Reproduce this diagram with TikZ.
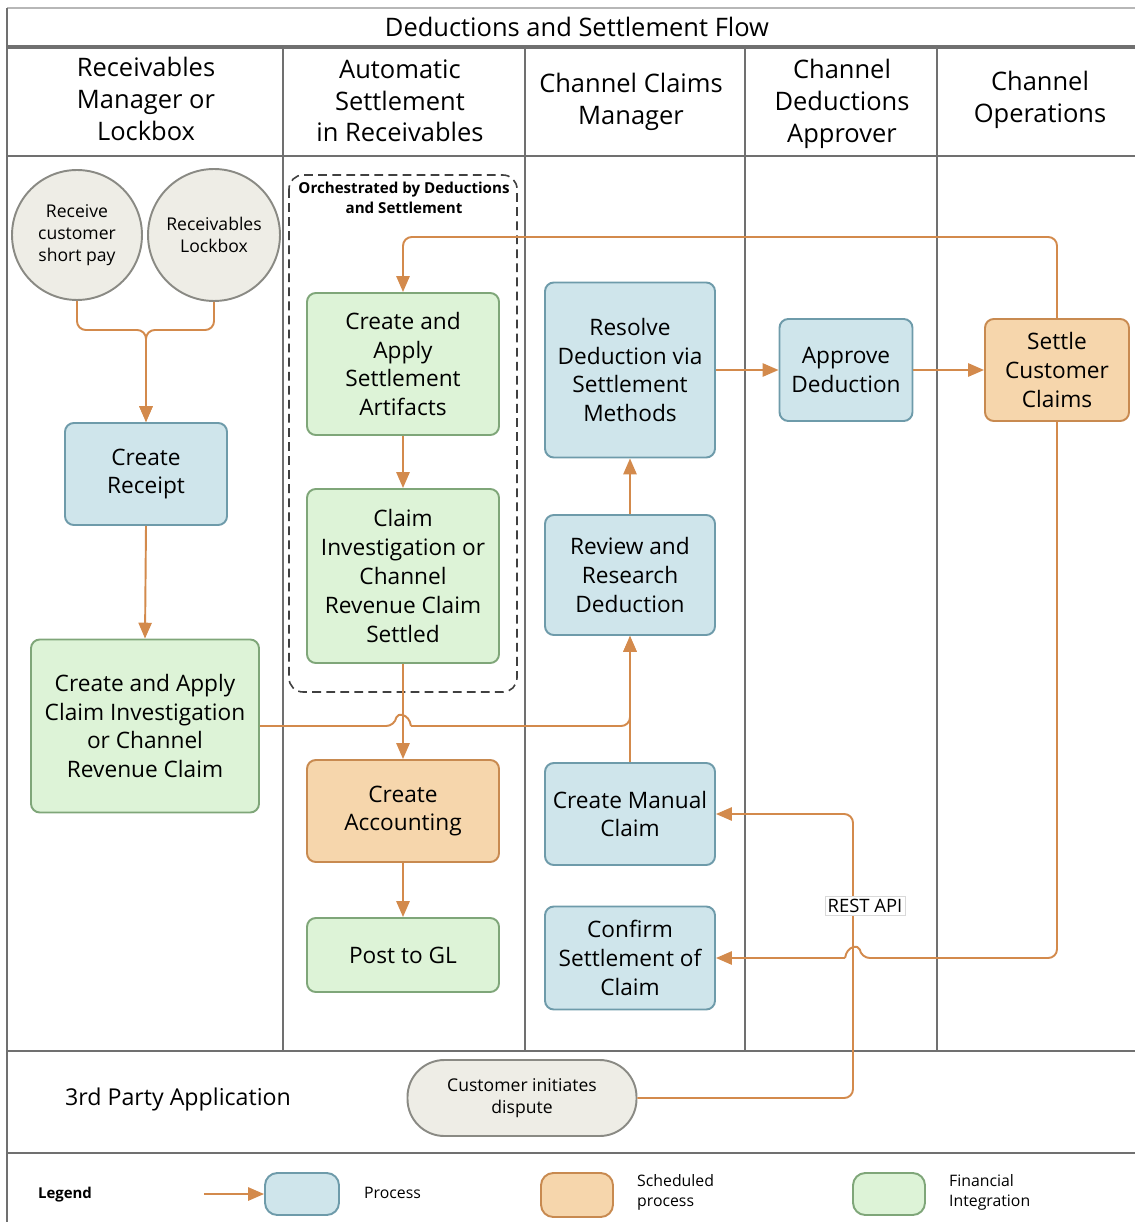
\documentclass[tikz,border=0pt]{standalone}
\usepackage{fontspec}
\setmainfont{Open Sans}
\usetikzlibrary{arrows.meta}
\definecolor{lane}{HTML}{707070}
\definecolor{arr}{HTML}{D38A4C}
\definecolor{bfill}{HTML}{CFE5EB}
\definecolor{bdraw}{HTML}{6E9BAA}
\definecolor{gfill}{HTML}{DDF3D7}
\definecolor{gdraw}{HTML}{7FA679}
\definecolor{ofill}{HTML}{F6D6AC}
\definecolor{odraw}{HTML}{C88A50}
\definecolor{cfill}{HTML}{EEEDE6}
\definecolor{cdraw}{HTML}{8A8A84}
\tikzset{
  ww/.style={minimum width=#1*0.02cm},
  hh/.style={minimum height=#1*0.02cm},
  boxbase/.style={rectangle, rounded corners=5pt, line width=1.1pt, align=center, inner sep=0pt,
     font=\fontsize{12.9}{16.4}\selectfont},
  proc/.style={boxbase, fill=bfill, draw=bdraw},
  fin/.style={boxbase, fill=gfill, draw=gdraw},
  sched/.style={boxbase, fill=ofill, draw=odraw},
  circ/.style={circle, fill=cfill, draw=cdraw, line width=1.1pt, align=center, inner sep=0pt,
     font=\fontsize{10}{12.5}\selectfont},
  hdr/.style={align=center, font=\fontsize{14.5}{18}\selectfont},
  lanel/.style={draw=lane, line width=1.1pt},
  flow/.style={draw=arr, line width=1.1pt, rounded corners=5pt, -{Triangle[length=9pt,width=7.5pt]}},
  wire/.style={draw=arr, line width=1.1pt, rounded corners=5pt}
}
\begin{document}
\begin{tikzpicture}[x=0.02cm, y=-0.02cm]
\useasboundingbox (0,0) rectangle (1135,1222);
% frame and lanes
\draw[draw=lane!50, line width=0.6pt] (7,8) -- (1135,8);
\draw[lanel] (7,8) -- (7,1222);
\draw[lanel, line width=2pt] (7,47) -- (1135,47);
\draw[lanel, line width=1.6pt] (7,156) -- (1135,156);
\draw[lanel, line width=1.6pt] (7,1051) -- (1135,1051);
\draw[lanel, line width=1.6pt] (7,1153) -- (1135,1153);
\foreach \xx in {283,525,745,937} { \draw[lanel] (\xx,47) -- (\xx,1051); }
% headers
\node[hdr] (title) at (577,27) {Deductions and Settlement Flow};
\node[hdr] (h1) at (146,99) {Receivables\\Manager or\\Lockbox};
\node[hdr] (h2) at (400,101) {Automatic\\Settlement\\in Receivables};
\node[hdr] (h3) at (631,102) {Channel Claims\\Manager};
\node[hdr] (h4) at (842,104) {Channel\\Deductions\\Approver};
\node[hdr] (h5) at (1040,100) {Channel\\Operations};
\node[hdr, font=\fontsize{13.2}{16}\selectfont] (h6) at (178,1099) {3rd Party Application};
% orchestration box
\draw[draw=black!75, line width=0.9pt, dash pattern=on 5pt off 3pt, rounded corners=8pt] (289,175) rectangle (517,692);
\node[align=center, font=\bfseries\fontsize{8.6}{11.3}\selectfont] (orch) at (404,198) {Orchestrated by Deductions\\and Settlement};
% nodes
\node[circ, minimum size=2.6cm] (c1) at (77,235) {Receive\\customer\\short pay};
\node[circ, minimum size=2.64cm] (c2) at (214,235) {Receivables\\Lockbox};
\node[proc, ww=162, hh=102] (receipt) at (146,474) {Create\\Receipt};
\node[fin, ww=228, hh=173] (claimA) at (145,726) {Create and Apply\\Claim Investigation\\or Channel\\Revenue Claim};
\node[fin, ww=192, hh=142] (artif) at (403,364) {Create and\\Apply\\Settlement\\Artifacts};
\node[fin, ww=192, hh=174] (claimInv) at (403,576) {Claim\\Investigation or\\Channel\\Revenue Claim\\Settled};
\node[sched, ww=192, hh=102] (acct) at (403,811) {Create\\Accounting};
\node[fin, ww=192, hh=74] (gl) at (403,955) {Post to GL};
\node[proc, ww=170, hh=175] (resolve) at (630,370) {Resolve\\Deduction via\\Settlement\\Methods};
\node[proc, ww=170, hh=120] (review) at (630,575) {Review and\\Research\\Deduction};
\node[proc, ww=170, hh=102] (manual) at (630,814) {Create Manual\\Claim};
\node[proc, ww=170, hh=103] (confirm) at (630,958) {Confirm\\Settlement of\\Claim};
\node[proc, ww=133, hh=102] (approve) at (846,370) {Approve\\Deduction};
\node[sched, ww=144, hh=102] (settle) at (1057,370) {Settle\\Customer\\Claims};
\node[rectangle, rounded corners=21pt, fill=cfill, draw=cdraw, line width=1.1pt, align=center,
      ww=229, hh=76, inner sep=0pt, font=\fontsize{10}{12.5}\selectfont] (dispute) at (522,1098) {Customer initiates\\dispute};
% connectors
\draw[flow] (c1.south) -- (77,330) -- (146,330) -- (receipt.north);
\draw[flow] (c2.south) -- (214,330) -- (146,330) -- (receipt.north);
\draw[flow] (receipt.south) -- (claimA.north);
\draw[flow] (artif.south) -- (claimInv.north);
\draw[flow] (claimInv.south) -- (acct.north);
\draw[flow] (acct.south) -- (gl.north);
\draw[wire] (claimA.east) -- (395,726) .. controls (397,713) and (409,713) .. (411,726);
\draw[flow] (411,726) -- (630,726) -- (review.south);
\draw[flow] (manual.north) -- (review.south);
\draw[flow] (review.north) -- (resolve.south);
\draw[flow] (resolve.east) -- (approve.west);
\draw[flow] (approve.east) -- (settle.west);
\draw[flow] (settle.north) -- (1057,237) -- (403,237) -- (artif.north);
\draw[wire] (settle.south) -- (1057,958) -- (861,958) .. controls (859,945) and (847,945) .. (845,958);
\draw[flow] (845,958) -- (confirm.east);
\draw[flow] (dispute.east) -- (853,1098) -- (853,814) -- (manual.east);
\node[fill=white, draw=black!15, line width=0.5pt, inner sep=1.5pt, font=\fontsize{10.5}{12}\selectfont] (rest) at (865,906) {REST API};
% legend
\node[font=\bfseries\fontsize{8.5}{10}\selectfont] (leg) at (65,1195) {Legend};
\node[proc, ww=74, hh=42, rounded corners=7pt] (lp) at (302,1194) {};
\node[sched, ww=72, hh=44, rounded corners=7pt] (ls) at (577,1195) {};
\node[fin, ww=72, hh=42, rounded corners=7pt] (lf) at (889,1194) {};
\coordinate (la) at (204,1194);
\draw[flow] (la) -- (lp.west);
\node[anchor=west, font=\fontsize{9}{11}\selectfont] (tp) at (358,1193) {Process};
\node[anchor=west, align=left, font=\fontsize{9}{11.3}\selectfont] (ts) at (631,1192) {Scheduled\\process};
\node[anchor=west, align=left, font=\fontsize{9}{11.3}\selectfont] (tf) at (943,1192) {Financial\\Integration};
\end{tikzpicture}
\end{document}
